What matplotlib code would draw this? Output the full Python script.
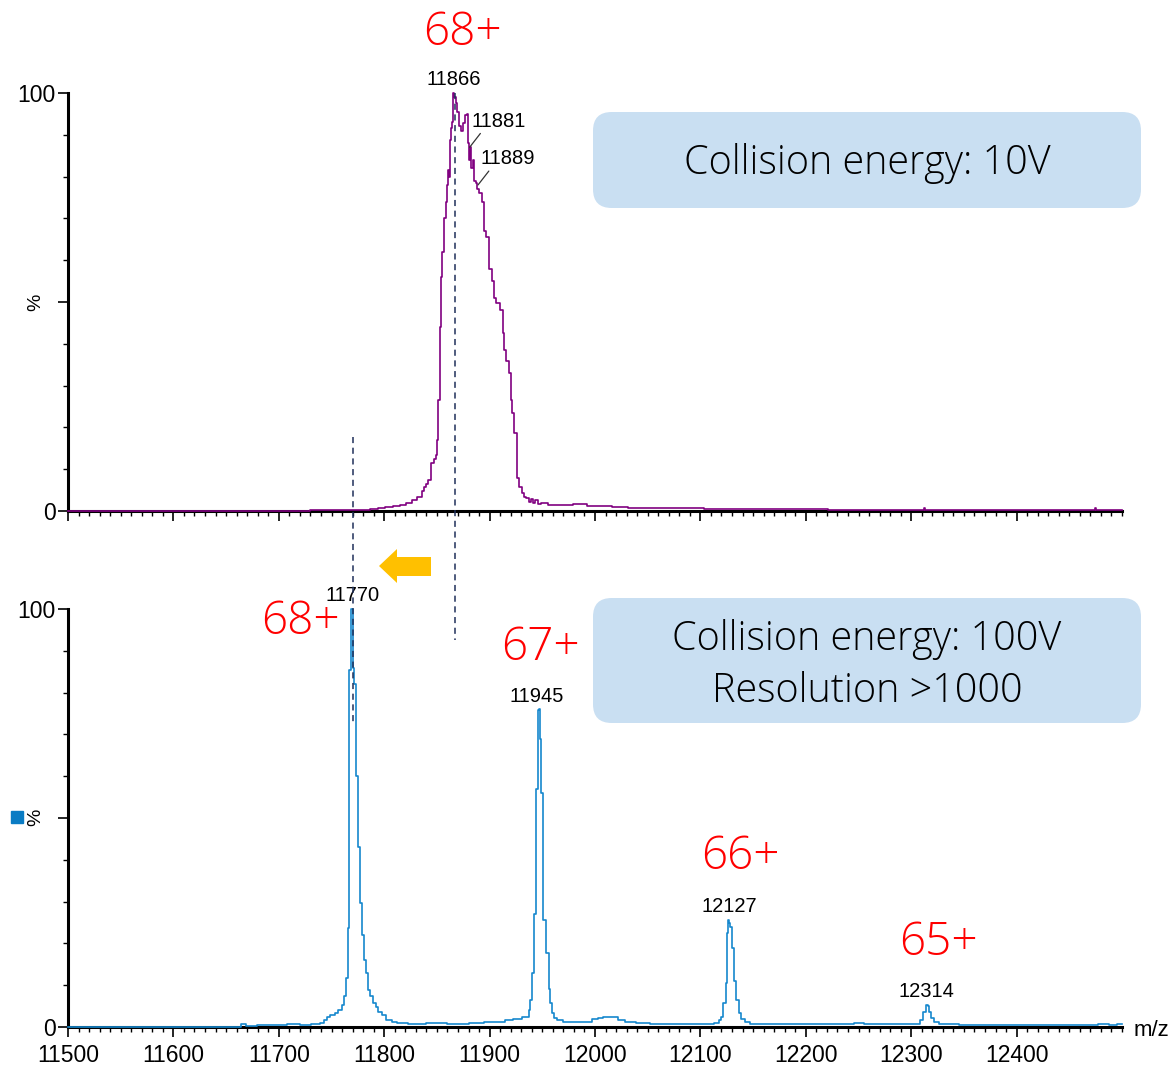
import matplotlib
matplotlib.use("Agg")
import matplotlib.pyplot as plt
from matplotlib.ticker import MultipleLocator
from matplotlib.patches import FancyBboxPatch, Polygon
from matplotlib.lines import Line2D
from matplotlib import transforms

# ---- data ----
# top spectrum, collision energy 10 V (m/z, %)
mz_top = [11500, 11700, 11760, 11780, 11793, 11796, 11805, 11812, 11818, 11824,
          11829, 11834, 11837, 11839, 11841, 11843, 11846, 11848, 11850, 11851,
          11852, 11853, 11854, 11856, 11858, 11859, 11860, 11861, 11862, 11863,
          11864, 11865, 11866, 11867, 11869, 11870, 11872, 11874, 11876, 11878,
          11879, 11880, 11881, 11882, 11883, 11885, 11886, 11888, 11889, 11891,
          11894, 11896, 11898, 11901, 11903, 11905, 11908, 11912, 11913, 11915,
          11917, 11919, 11921, 11922, 11925, 11927, 11929, 11932, 11934, 11936,
          11938, 11940, 11942, 11944, 11947, 11951, 11960, 11973, 11985, 12000,
          12010, 12023, 12040, 12060, 12090, 12117, 12150, 12192, 12250, 12312,
          12313, 12314, 12350, 12420, 12474, 12475, 12476, 12500]
int_top = [0.1, 0.1, 0.2, 0.3, 0.4, 0.7, 0.9, 1.2, 1.5, 2.0,
           2.6, 3.4, 4.8, 5.8, 6.5, 7.4, 11.5, 12.5, 13.5, 17,
           26.5, 44, 56, 62, 70, 74, 78, 81.6, 80, 88.8,
           91.6, 93, 100, 99, 97.6, 95.4, 92, 91, 92.8, 94.7,
           95, 88, 84, 87, 82, 84, 79, 78.5, 77, 76,
           74, 67, 65.6, 58, 55, 51, 49.8, 48, 42.6, 38.5,
           36, 33, 26.5, 23.4, 18.6, 8, 5.8, 4.3, 3.4, 3.0,
           2.2, 2.8, 2.0, 2.6, 1.7, 1.9, 1.5, 1.4, 1.6, 1.3,
           1.1, 1.0, 0.8, 0.7, 0.6, 0.5, 0.45, 0.4, 0.3, 0.3,
           0.8, 0.3, 0.25, 0.25, 0.25, 0.7, 0.25, 0.25]

# bottom spectrum, collision energy 100 V (m/z, %)
mz_bot = [11500, 11600, 11660, 11668, 11669, 11690, 11700, 11715, 11725, 11737,
          11741, 11745, 11747, 11751, 11755, 11758, 11761, 11763, 11764.7, 11765.7,
          11766.6, 11767.5, 11769, 11770, 11771, 11772, 11774, 11776, 11778, 11780,
          11782, 11784, 11786, 11788, 11791, 11793, 11796, 11800, 11804, 11810,
          11815, 11830, 11850, 11870, 11890, 11900, 11910, 11919, 11925, 11929,
          11933, 11936, 11938, 11939, 11941, 11943, 11945, 11946, 11947, 11948,
          11950, 11952, 11955, 11957, 11958, 11960, 11963, 11965, 11975, 11986,
          11995, 12000, 12005, 12011, 12018, 12025, 12032, 12045, 12060, 12080,
          12100, 12110, 12116, 12119, 12120.5, 12123, 12125, 12126, 12127, 12128,
          12129, 12131, 12132, 12135, 12137.6, 12140, 12144, 12150, 12180, 12220,
          12242, 12250, 12261, 12280, 12300, 12307, 12310, 12313, 12315, 12316,
          12318, 12320, 12322.5, 12330, 12360, 12400, 12470, 12485, 12490, 12500]
int_bot = [0.0, 0.0, 0.1, 0.6, 0.2, 0.5, 0.4, 0.6, 0.5, 0.7,
           1.0, 1.6, 2.4, 2.9, 3.3, 4.0, 5.3, 7.5, 11.7, 23.7,
           51, 85.4, 100, 100, 86, 82, 60, 43, 29.7, 22,
           16, 13, 8.9, 7.5, 5.7, 4.8, 3.6, 2.8, 1.7, 1.3,
           1.0, 0.8, 0.9, 0.8, 0.9, 1.1, 1.3, 1.6, 1.8, 2.0,
           2.4, 2.4, 4.0, 6.5, 13, 27, 57, 75.8, 76, 69,
           56, 25.6, 17.7, 9, 5.7, 3.3, 2.2, 1.7, 1.2, 1.1,
           1.3, 1.8, 2.2, 2.5, 2.3, 1.7, 1.1, 0.9, 0.8, 0.7,
           0.7, 0.8, 1.0, 1.6, 2.4, 5.7, 10.5, 22.5, 25.6, 25,
           24, 19, 11, 6.5, 3.3, 2.0, 1.2, 0.8, 0.6, 0.6,
           0.8, 1.0, 0.8, 0.6, 0.6, 0.8, 1.7, 3.6, 5.3, 5.0,
           3.6, 2.2, 1.2, 0.6, 0.5, 0.5, 0.5, 0.8, 0.5, 0.6]

# peak labels
top_peaks = [11866, 11881, 11889]
top_peak_int = [100, 87, 78]
bot_peaks = [11770, 11945, 12127, 12314]
bot_peak_int = [100, 75.8, 25.6, 5.3]
bot_charges = ["68+", "67+", "66+", "65+"]

W, H = 1171, 1067
PURPLE = "#800080"
BLUE = "#1587cd"
RED = "#ff0000"
BOXC = "#c9dff2"
LIGHT = dict(family=["Open Sans", "DejaVu Sans"], weight="light")
ARIAL = ["Liberation Sans", "DejaVu Sans"]


def fx(px):
    return px / W


def fy(py):
    return 1 - py / H


fig = plt.figure(figsize=(W / 100, H / 100), dpi=100)
ax_top = fig.add_axes([fx(68), fy(511), fx(1122 - 68), (511 - 93) / H])
ax_bot = fig.add_axes([fx(68), fy(1027), fx(1122 - 68), (1027 - 609) / H])

for ax, mz, inten, col in [(ax_top, mz_top, int_top, PURPLE),
                           (ax_bot, mz_bot, int_bot, BLUE)]:
    ax.plot(mz, inten, color=col, lw=1.2, drawstyle="steps-mid", clip_on=False, zorder=3)
    ax.set_xlim(11500, 12500)
    ax.set_ylim(0, 100)
    for s in ["top", "right"]:
        ax.spines[s].set_visible(False)
    for s in ["left", "bottom"]:
        ax.spines[s].set_linewidth(2.2)
        ax.spines[s].set_zorder(2)
    ax.set_xticks(range(11500, 12500, 100))
    ax.xaxis.set_minor_locator(MultipleLocator(10))
    ax.set_yticks([0, 50, 100])
    ax.set_yticklabels(["0", "", "100"])
    ax.yaxis.set_minor_locator(MultipleLocator(10))
    ax.tick_params(which="major", direction="out", length=7.5, width=1.2, pad=1.5,
                   labelsize=16.5)
    ax.tick_params(which="minor", direction="out", length=3.8, width=1.0)
    ax.tick_params(axis="x", which="major", pad=5)
    for lab in ax.get_xticklabels() + ax.get_yticklabels():
        lab.set_family(ARIAL)
    ax.patch.set_alpha(0)

ax_top.tick_params(labelbottom=False)

# % labels and the small blue square
fig.text(fx(36), fy(302), "%", rotation=90, ha="center", va="center",
         fontsize=14, family=ARIAL)
fig.text(fx(36), fy(817), "%", rotation=90, ha="center", va="center",
         fontsize=14, family=ARIAL)
fig.patches.append(plt.Rectangle((fx(11), fy(823)), fx(12), 12 / H,
                                 transform=fig.transFigure, color="#0a7cc4"))
fig.text(fx(1151), fy(1030), "m/z", ha="center", va="center", fontsize=16, family=ARIAL)

# peak labels
ax_top.annotate(str(top_peaks[0]), (top_peaks[0], top_peak_int[0]), xytext=(0, 3),
                textcoords="offset points", ha="center", va="bottom",
                fontsize=14.5, family=ARIAL, annotation_clip=False)
for pk, it in zip(top_peaks[1:], top_peak_int[1:]):
    ax_top.annotate(str(pk), (pk, it), xytext=(1.5, 12), textcoords="offset points",
                    ha="left", va="bottom", fontsize=14.5, family=ARIAL,
                    arrowprops=dict(arrowstyle="-", color="#333333", lw=0.9,
                                    shrinkA=0, shrinkB=0, relpos=(0.2, 0)))
for pk, it in zip(bot_peaks, bot_peak_int):
    ax_bot.annotate(str(pk), (pk, it), xytext=(0, 3), textcoords="offset points",
                    ha="center", va="bottom", fontsize=14.5, family=ARIAL,
                    annotation_clip=False)

# charge state labels
fig.text(fx(462), fy(33), "68+", ha="center", va="center", color=RED, fontsize=33, **LIGHT)
for ch, (px, py) in zip(bot_charges, [(300, 622), (540, 648), (740, 857), (938, 943)]):
    fig.text(fx(px), fy(py), ch, ha="center", va="center", color=RED, fontsize=33, **LIGHT)

# collision energy boxes
for (x0, y0, x1, y1) in [(593, 112, 1141, 208), (593, 598, 1141, 723)]:
    box = FancyBboxPatch((fx(x0), fy(y1)), fx(x1 - x0), (y1 - y0) / H,
                         boxstyle="round,pad=0,rounding_size=0.016",
                         mutation_aspect=W / H, transform=fig.transFigure,
                         facecolor=BOXC, edgecolor="none", zorder=0)
    fig.patches.append(box)
fig.text(fx(867), fy(164), "Collision energy: 10V", ha="center", va="center",
         fontsize=28.5, **LIGHT)
fig.text(fx(867), fy(639), "Collision energy: 100V", ha="center", va="center",
         fontsize=28.5, **LIGHT)
fig.text(fx(867), fy(691), "Resolution >1000", ha="center", va="center",
         fontsize=28.5, **LIGHT)

# dashed guide lines spanning both panels
tr = transforms.blended_transform_factory(ax_bot.transData, fig.transFigure)
fig.lines.append(Line2D([11770, 11770], [fy(437), fy(723)], transform=tr,
                        color="#1f2f5a", lw=1.1, ls=(0, (4, 3)), zorder=5))
fig.lines.append(Line2D([11867, 11867], [fy(93), fy(640)], transform=tr,
                        color="#1f2f5a", lw=1.1, ls=(0, (4, 3)), zorder=5))

# yellow shift arrow
arrow_px = [(379, 566), (397, 549), (397, 557), (431, 557), (431, 576), (397, 576), (397, 583)]
fig.patches.append(Polygon([(fx(a), fy(b)) for a, b in arrow_px], closed=True,
                           transform=fig.transFigure, facecolor="#ffc000", edgecolor="none"))

fig.savefig("out.png", dpi=100)
